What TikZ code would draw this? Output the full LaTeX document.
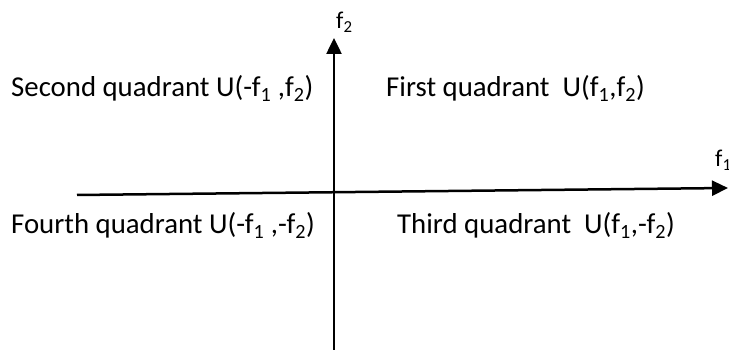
\documentclass[tikz,border=0pt]{standalone}
\usepackage{fontspec}
\setmainfont{Carlito}
\usetikzlibrary{arrows.meta}

\begin{document}
\begin{tikzpicture}[
  x=1pt, y=1pt,
  qd/.style={font=\fontsize{28.8}{32}\selectfont, anchor=base west, inner sep=0pt},
  lb/.style={font=\fontsize{24}{28}\selectfont, anchor=base west, inner sep=0pt},
  ax/.style={line width=2.5pt, -{Triangle[length=16pt,width=15pt]}}]
  \useasboundingbox (0,0) rectangle (729,350);
  % axes
  \coordinate (X0) at (77,155);
  \coordinate (X1) at (728,162);
  \coordinate (Y0) at (334,0);
  \coordinate (Y1) at (334,312);
  \draw[ax] (X0) -- (X1);
  \draw[ax] (Y0) -- (Y1);
  \node[lb] (F1) at (715,183) {f\textsubscript{1}};
  \node[lb] (F2) at (336,321) {f\textsubscript{2}};
  % quadrant labels
  \node[qd] (Q2) at (11,253)  {Second quadrant U(-f\textsubscript{1} ,f\textsubscript{2})};
  \node[qd] (Q1) at (386,253) {First quadrant\ \ U(f\textsubscript{1},f\textsubscript{2})};
  \node[qd] (Q4) at (11,116)  {Fourth quadrant U(-f\textsubscript{1} ,-f\textsubscript{2})};
  \node[qd] (Q3) at (397,116) {Third quadrant\ \ U(f\textsubscript{1},-f\textsubscript{2})};
\end{tikzpicture}
\end{document}
